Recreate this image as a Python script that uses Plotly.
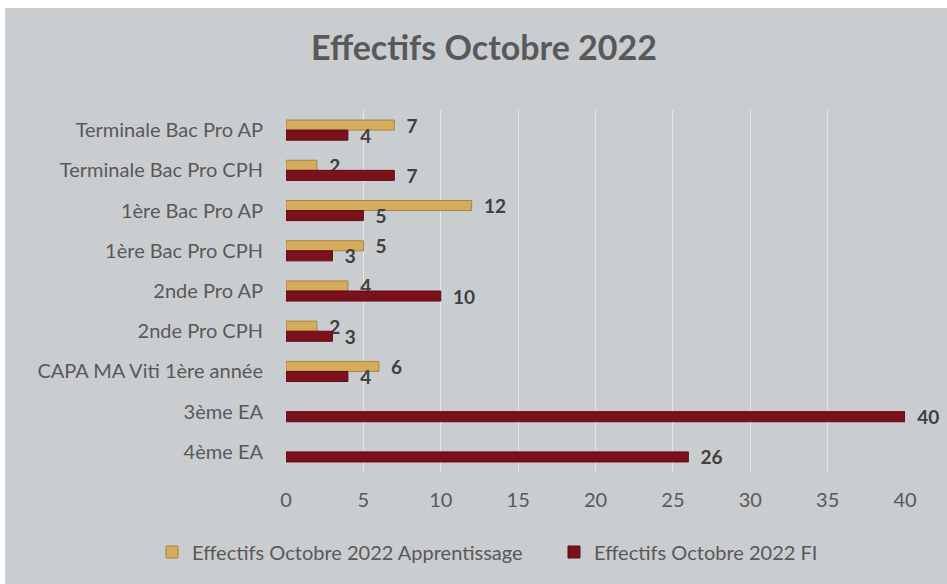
import plotly.graph_objects as go

categories = [
    "Terminale Bac Pro AP",
    "Terminale Bac Pro CPH",
    "1ère Bac Pro AP",
    "1ère Bac Pro CPH",
    "2nde Pro AP",
    "2nde Pro CPH",
    "CAPA MA Viti 1ère année",
    "3ème EA",
    "4ème EA",
]
apprentissage = [7, 2, 12, 5, 4, 2, 6, None, None]
fi = [4, 7, 5, 3, 10, 3, 4, 40, 26]
x_ticks = [0, 5, 10, 15, 20, 25, 30, 35, 40]

series_names = ["Effectifs Octobre 2022 Apprentissage", "Effectifs Octobre 2022 FI"]

FONT = "Lato"
BG = "#C9CDD0"
PAD = "\u00a0\u00a0"

# page offset of the figure (body margin set below)
OX, OY = 5, 8
W, H = 947 - OX, 584 - OY

def labels(vals):
    return ["" if v is None else PAD + str(v) for v in vals]

fig = go.Figure()
fig.add_trace(go.Bar(
    y=categories, x=apprentissage, orientation="h", name=series_names[0],
    marker=dict(color="#D4AC5C", line=dict(color="#A9843E", width=1)),
    text=labels(apprentissage),
    textposition="outside", cliponaxis=False, constraintext="none",
    textfont=dict(family=FONT, size=19, color="#404040", weight="bold"),
))
fig.add_trace(go.Bar(
    y=categories, x=fi, orientation="h", name=series_names[1],
    marker=dict(color="#7B111B", line=dict(color="#5E0C14", width=1)),
    text=labels(fi),
    textposition="outside", cliponaxis=False, constraintext="none",
    textfont=dict(family=FONT, size=19, color="#404040", weight="bold"),
))

# plot area in page pixels: x 286..905, y 110..472
L = 286 - OX
R = 947 - 905
T = 110 - OY
B = 584 - 472
pw, ph = W - L - R, H - T - B

def px_x(px):
    return (px - OX - L) / pw

def px_y(py):
    return (H - B - (py - OY)) / ph

fig.update_layout(
    width=W, height=H,
    margin=dict(l=L, r=R, t=T, b=B, autoexpand=False),
    paper_bgcolor=BG, plot_bgcolor=BG,
    barmode="group", bargap=0.5, bargroupgap=0,
    font=dict(family=FONT, color="#595959", size=20),
    title=dict(text="<b>Effectifs Octobre 2022</b>", x=(484 - OX) / W, xanchor="center",
               y=1 - (48 - OY) / H, yanchor="middle",
               font=dict(family=FONT, size=34, color="#595959")),
    showlegend=True,
    legend=dict(orientation="h", x=px_x(152), xanchor="left",
                y=px_y(552), yanchor="middle",
                font=dict(family=FONT, size=20, color="#595959"),
                bgcolor="rgba(0,0,0,0)", itemwidth=30, traceorder="normal",
                entrywidth=357, entrywidthmode="pixels"),
    xaxis=dict(range=[0, 40], tickvals=x_ticks, showgrid=True,
               gridcolor="#E4E6E8", gridwidth=1, zeroline=False,
               showline=False, ticks="", ticklabelstandoff=14,
               tickfont=dict(family=FONT, size=20, color="#595959")),
    yaxis=dict(autorange="reversed", showgrid=False, zeroline=False,
               showline=False, ticks="", ticklabelstandoff=22,
               tickfont=dict(family=FONT, size=20, color="#595959")),
)

fig.write_html("out.html",
               post_script="document.body.style.margin='%dpx 0 0 %dpx';" % (OY, OX))
